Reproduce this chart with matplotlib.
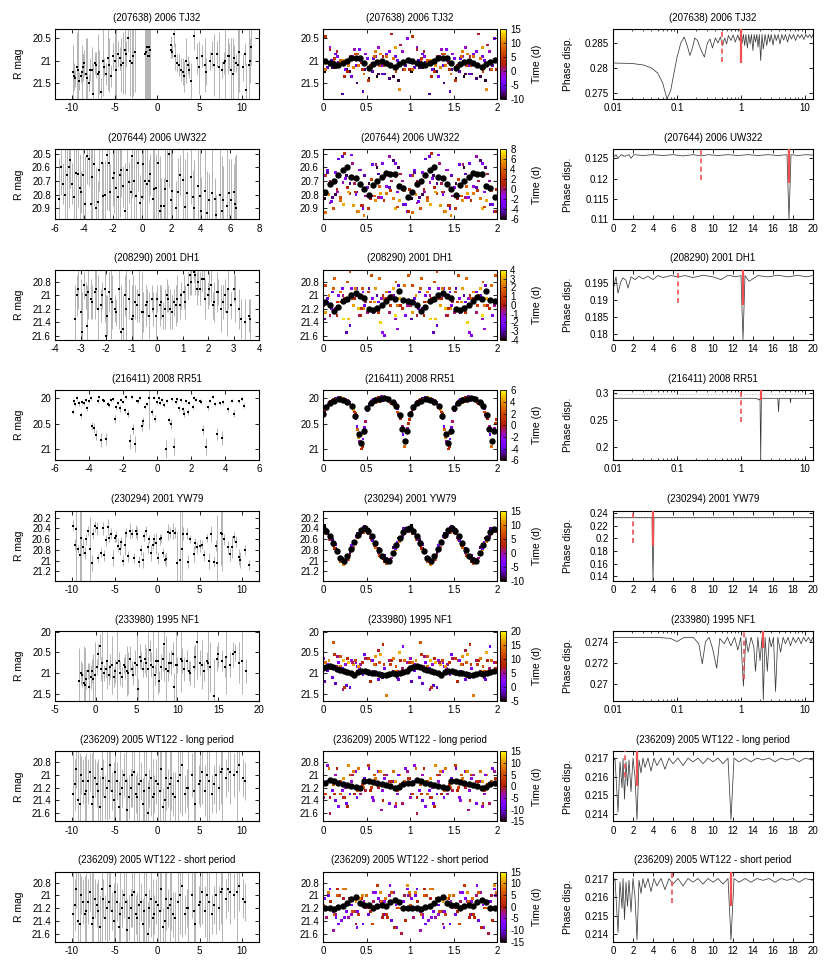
import matplotlib
matplotlib.use('Agg')
import matplotlib.pyplot as plt
from matplotlib.ticker import FuncFormatter, NullFormatter, LogLocator

plt.rcParams['font.family'] = ['Liberation Sans', 'DejaVu Sans']
plt.rcParams['font.size'] = 7

# phase of each observation in the folded light curve (night A, night B)
PHASE_A = [0.02,0.53,0.27,0.81,0.11,0.64,0.39,0.92,0.18,0.71,
           0.46,0.05,0.58,0.33,0.86,0.14,0.67,0.42,0.97,0.23,
           0.76,0.49,0.08,0.61,0.36,0.89,0.16,0.69,0.44,0.99,
           0.25,0.78,0.52,0.03,0.56,0.31,0.84,0.12,0.65,0.40,
           0.94,0.20,0.73,0.47,0.07,0.60,0.35,0.88,0.29,0.83]
PHASE_C = [0.62,0.14,0.87,0.31,0.05,0.76,0.48,0.22,0.95,0.57,
           0.10,0.68,0.38,0.83,0.26,0.51,0.01,0.73,0.43,0.17,
           0.91,0.34,0.64,0.08,0.79,0.55,0.28,0.98,0.45,0.13,
           0.70,0.37,0.86,0.20,0.59,0.03,0.81,0.41,0.66,0.24]
# 236209, short period fold
PHASE_B = [0.71,0.08,0.46,0.93,0.27,0.60,0.15,0.84,0.39,0.02,
           0.55,0.77,0.21,0.66,0.33,0.98,0.12,0.49,0.81,0.04,
           0.58,0.36,0.90,0.24,0.69,0.43,0.17,0.95,0.52,0.30,
           0.74,0.09,0.63,0.41,0.86,0.19,0.57,0.01,0.79,0.34,
           0.67,0.13,0.50,0.88,0.26,0.72,0.06,0.45,0.97,0.38]
PHASE_D = [0.33,0.79,0.06,0.52,0.91,0.18,0.64,0.40,0.97,0.25,
           0.71,0.12,0.58,0.85,0.03,0.47,0.29,0.76,0.15,0.62,
           0.38,0.94,0.21,0.68,0.09,0.55,0.82,0.44,0.27,0.73,
           0.00,0.60,0.35,0.88,0.16,0.50,0.99,0.23,0.66,0.42]

# ---- observations: time (d), R mag, error ----
t_207638 = [-9.9,-9.6,-9.3,-9.0,-8.7,-8.4,-8.0,-7.7,-7.3,-7.0,
            -6.6,-6.2,-5.8,-5.4,-5.0,-4.6,-4.2,-3.8,-3.4,-3.0,
            -2.6,-1.4,-1.2,-1.0,-0.8,1.6,1.8,2.1,2.4,2.8,
            3.2,3.6,4.0,4.4,4.9,5.3,5.8,6.2,6.7,7.1,
            7.6,8.0,8.5,8.9,9.3,9.7,10.1,10.5,10.8,11.1,
            -9.75,-9.45,-9.15,-8.85,-8.55,-8.2,-7.85,-7.5,-7.15,-6.8,
            -6.4,-6.0,-5.6,-5.2,-4.8,-4.4,-4.0,-3.6,-3.2,-2.8,
            -1.3,-1.1,-0.9,1.7,2.0,2.6,3.0,3.4,3.8,4.7,
            5.6,6.5,7.3,7.9,8.3,8.7,9.1,9.5,10.3,10.9]
mag_207638 = [21.25,21.4,21.2,21.35,21.15,21.3,21.5,21.2,21.05,21.3,
              21.7,21.15,20.95,21.35,21.0,20.85,21.1,20.75,20.5,21.05,
              20.8,20.85,20.7,20.9,20.75,20.65,20.8,20.9,21.05,21.2,
              21.35,21.1,21.45,20.45,21.15,20.9,21.25,21.0,21.1,20.85,
              21.2,21.0,20.9,21.3,21.05,20.8,21.15,21.65,21.1,20.7,
              21.35,21.15,21.45,21.25,21.05,21.4,21.2,21.75,21.1,21.25,
              21.0,21.3,21.1,20.9,21.2,20.95,21.05,20.85,21.0,20.9,
              20.8,20.9,20.7,20.75,20.4,21.1,21.25,21.0,21.2,20.95,
              21.1,20.85,21.15,21.05,20.9,21.2,20.95,21.1,20.85,21.0]
err_207638 = [0.6,0.2,0.9,0.15,0.3,0.8,0.2,0.5,0.25,0.9,
              0.3,0.2,0.7,0.25,0.9,0.3,0.6,1.0,0.3,0.8,
              0.9,1.2,1.2,1.2,1.2,0.2,0.15,0.3,0.2,0.25,
              0.35,0.2,0.4,0.3,0.6,0.25,0.3,0.2,0.7,0.3,
              0.2,0.9,0.3,0.8,0.2,0.9,0.3,0.6,0.8,0.4,
              0.3,0.8,0.2,0.6,0.3,0.9,0.25,0.7,0.3,0.5,
              0.8,0.25,0.6,0.3,0.9,0.25,0.7,0.3,0.8,0.9,
              1.2,1.2,1.2,0.2,0.3,0.25,0.3,0.5,0.2,0.35,
              0.6,0.3,0.8,0.25,0.4,0.7,0.3,0.9,0.25,0.5]

t_207644 = [-5.7,-5.45,-5.2,-4.95,-4.7,-4.45,-4.2,-3.95,-3.7,-3.45,
            -3.2,-2.95,-2.7,-2.45,-2.2,-1.95,-1.7,-1.45,-1.2,-0.95,
            -0.7,-0.45,-0.2,0.05,0.3,0.55,0.8,1.05,1.3,1.55,
            1.8,2.05,2.3,2.55,2.8,3.05,3.3,3.55,3.8,4.05,
            4.3,4.55,4.8,5.05,5.3,5.55,5.8,6.05,6.25,6.4,
            -5.6,-5.3,-5.05,-4.8,-4.55,-4.3,-4.05,-3.8,-3.55,-3.3,
            -3.05,-2.8,-2.55,-2.3,-2.05,-1.8,-1.55,-1.3,-1.05,-0.8,
            -0.55,-0.3,-0.05,0.2,0.45,0.7,0.95,1.2,1.45,1.7,
            1.95,2.45,2.95,3.45,3.95,4.45,4.95,5.45,5.95,6.35]
mag_207644 = [20.83,20.72,20.66,20.55,20.82,20.65,20.78,20.87,20.54,20.67,
              20.90,20.62,20.81,20.51,20.78,20.64,20.82,20.62,20.92,20.71,
              20.52,20.81,20.86,20.58,20.72,20.65,20.76,20.57,20.88,20.76,
              20.50,20.77,20.90,20.66,20.69,20.79,20.67,20.90,20.74,20.92,
              20.77,20.84,20.79,20.95,20.80,20.84,20.88,20.84,20.78,20.90,
              20.60,20.80,20.60,20.72,20.64,20.75,20.66,20.52,20.87,20.58,
              20.85,20.57,20.80,20.57,20.68,20.75,20.66,20.74,20.62,20.78,
              20.70,20.57,20.82,20.70,20.70,20.83,20.75,20.92,20.88,20.70,
              20.84,20.78,20.89,20.82,20.81,20.93,20.83,20.92,20.79,20.87]
err_207644 = [0.3,0.15,0.4,0.2,0.5,0.25,0.15,0.35,0.2,0.5,
              0.3,0.15,0.25,0.4,0.2,0.3,0.5,0.2,0.35,0.15,
              0.3,0.45,0.2,0.25,0.4,0.15,0.3,0.5,0.2,0.35,
              0.25,0.4,0.2,0.15,0.45,0.3,0.2,0.35,0.5,0.25,
              0.3,0.2,0.4,0.15,0.35,0.25,0.5,0.3,0.2,0.4,
              0.2,0.45,0.3,0.15,0.5,0.25,0.35,0.2,0.4,0.3,
              0.15,0.5,0.25,0.35,0.2,0.45,0.3,0.15,0.4,0.25,
              0.5,0.2,0.35,0.3,0.15,0.45,0.25,0.4,0.2,0.3,
              0.5,0.25,0.35,0.2,0.45,0.3,0.15,0.4,0.25,0.35]

t_208290 = [-3.2,-3.1,-2.95,-2.8,-2.7,-2.55,-2.4,-2.3,-2.15,-2.0,
            -1.9,-1.75,-1.6,-1.5,-1.35,-1.2,-1.1,-0.95,-0.8,-0.7,
            -0.55,-0.4,-0.3,-0.15,0.0,0.1,0.25,0.4,0.5,0.65,
            0.8,0.9,1.05,1.2,1.3,1.45,1.6,1.7,1.85,2.0,
            2.1,2.25,2.4,2.5,2.65,2.8,2.9,3.05,3.3,3.6,
            -3.15,-3.0,-2.85,-2.75,-2.6,-2.45,-2.2,-2.05,-1.95,-1.8,
            -1.65,-1.4,-1.25,-1.0,-0.85,-0.6,-0.45,-0.2,-0.05,0.15,
            0.3,0.45,0.6,0.75,0.95,1.1,1.35,1.5,1.55,1.75,
            1.9,2.05,2.2,2.35,2.6,2.75,3.0,3.2,3.45,3.65]
mag_208290 = [21.35,20.9,21.55,21.0,20.95,21.1,20.9,21.2,21.0,21.6,
              20.95,21.1,21.25,20.9,21.5,21.2,21.05,21.3,21.15,21.0,
              21.25,21.1,21.3,21.2,21.05,21.15,21.3,21.0,21.2,21.1,
              21.05,21.15,20.95,20.85,20.7,20.65,20.8,20.9,20.75,21.0,
              20.85,21.1,20.95,21.2,21.0,20.9,21.15,21.05,21.35,21.3,
              21.0,21.25,20.85,21.45,21.05,20.95,21.15,20.9,21.3,21.05,
              21.2,21.55,21.0,21.35,21.1,21.25,21.15,21.05,21.3,21.1,
              21.2,21.05,21.25,21.15,21.0,21.1,20.8,20.7,20.9,20.75,
              21.05,20.9,21.15,20.95,21.1,21.25,20.9,21.2,21.4,21.35]
err_208290 = [0.5,0.3,0.6,0.2,0.4,0.25,0.3,0.5,0.2,0.6,
              0.3,0.4,0.2,0.6,0.5,0.7,0.3,0.6,0.25,0.4,
              0.3,0.2,0.35,0.25,0.2,0.3,0.2,0.25,0.3,0.2,
              0.35,0.2,0.25,0.2,0.3,0.15,0.2,0.25,0.3,0.2,
              0.25,0.3,0.2,0.35,0.25,0.3,0.2,0.35,0.3,0.25,
              0.3,0.5,0.2,0.6,0.3,0.4,0.25,0.5,0.3,0.6,
              0.2,0.7,0.3,0.5,0.25,0.6,0.3,0.2,0.35,0.25,
              0.3,0.2,0.25,0.3,0.2,0.25,0.2,0.3,0.25,0.2,
              0.3,0.25,0.2,0.3,0.25,0.35,0.2,0.3,0.35,0.3]

t_216411 = [-4.95,-4.8,-4.6,-4.4,-4.2,-4.0,-3.8,-3.6,-3.4,-3.2,
            -3.0,-2.8,-2.6,-2.4,-2.2,-2.0,-1.8,-1.6,-1.4,-1.2,
            -1.0,-0.8,-0.6,-0.45,-0.3,-0.1,0.1,0.3,0.5,0.7,
            0.9,1.1,1.3,1.5,1.7,1.9,2.1,2.3,2.5,2.7,
            2.9,3.1,3.3,3.5,3.7,3.9,4.2,4.5,4.8,5.1,
            -4.9,-4.7,-4.5,-4.3,-4.1,-3.9,-3.7,-3.5,-3.3,-3.1,
            -2.9,-2.7,-2.5,-2.3,-2.1,-1.9,-1.7,-1.5,-1.3,-1.1,
            -0.9,-0.7,-0.2,0.0,0.2,0.4,0.6,0.8,1.0,1.2,
            1.4,1.6,1.8,2.2,2.6,3.0,3.4,3.8,4.4,5.0]
mag_216411 = [20.27,20.12,20.1,20.08,20.04,20.05,20.55,20.72,19.98,20.03,
              20.8,20.13,20.02,20.18,20.2,20.07,19.97,20.85,20.6,20.06,
              20.0,20.45,20.12,20.0,20.27,20.4,20.0,20.04,21.0,20.42,
              20.02,20.08,20.2,20.22,20.06,20.1,20.17,20.03,20.06,20.62,
              20.95,20.05,19.98,20.7,20.1,20.08,20.22,20.3,20.06,20.15,
              20.06,20.0,20.32,20.09,20.2,20.0,20.58,20.06,20.82,20.05,
              20.11,20.04,20.4,20.1,20.03,20.24,20.3,19.98,20.9,20.05,
              20.55,20.17,19.99,20.07,20.1,20.13,20.05,20.5,20.95,20.02,
              20.03,20.3,20.27,19.99,20.08,20.18,20.12,20.78,20.05,20.01]
err_216411 = [0.04,0.03,0.05,0.04,0.03,0.04,0.08,0.1,0.03,0.04,
              0.12,0.04,0.03,0.05,0.06,0.03,0.04,0.15,0.1,0.03,
              0.04,0.08,0.03,0.6,0.05,0.07,0.03,0.04,0.18,0.06,
              0.03,0.04,0.05,0.04,0.03,0.04,0.05,0.03,0.04,0.1,
              0.16,0.03,0.04,0.12,0.03,0.04,0.05,0.06,0.03,0.05,
              0.03,0.04,0.06,0.04,0.05,0.03,0.1,0.04,0.14,0.03,
              0.04,0.03,0.08,0.04,0.03,0.05,0.06,0.03,0.16,0.04,
              0.1,0.04,0.03,0.04,0.04,0.05,0.04,0.1,0.17,0.03,
              0.04,0.06,0.05,0.03,0.04,0.05,0.04,0.14,0.03,0.04]

t_230294 = [-9.9,-9.5,-9.1,-8.7,-8.3,-7.9,-7.5,-7.1,-6.6,-6.2,
            -5.8,-5.4,-5.0,-4.6,-4.2,-3.8,-3.4,-3.0,-2.5,-2.1,
            -1.7,-1.3,-0.9,-0.5,-0.1,0.3,0.7,1.1,1.5,1.9,
            2.3,2.7,3.1,3.5,3.9,4.3,4.7,5.1,5.5,5.9,
            6.3,6.7,7.1,7.5,7.9,8.3,8.8,9.3,9.8,10.4,
            -9.7,-9.3,-8.9,-8.5,-8.1,-7.7,-7.3,-6.9,-6.4,-6.0,
            -5.6,-5.2,-4.8,-4.4,-4.0,-3.6,-3.2,-2.7,-2.3,-1.9,
            -1.5,-1.1,-0.7,-0.3,0.1,0.5,0.9,1.3,2.1,2.9,
            3.7,4.5,5.3,6.1,6.9,7.7,8.6,9.1,9.6,10.8]
mag_230294 = [20.35,20.42,20.9,20.75,20.6,20.78,20.5,20.4,20.85,20.9,
              20.38,20.5,20.58,20.72,20.66,20.7,20.92,20.5,20.45,21.02,
              20.98,20.45,20.6,20.7,20.68,20.6,20.85,20.97,20.48,20.45,
              21.05,20.98,20.5,20.5,20.6,20.88,20.75,20.72,20.9,20.58,
              20.5,21.02,21.05,20.48,20.6,20.75,20.75,20.65,20.98,20.8,
              20.7,20.78,20.58,20.85,20.45,21.04,20.36,20.95,20.4,20.62,
              20.58,20.95,20.55,20.78,21.0,20.48,20.45,20.95,20.5,20.8,
              20.55,20.75,20.85,20.6,20.95,20.58,20.98,20.46,20.48,20.78,
              21.02,20.68,20.7,21.0,20.72,20.5,20.88,20.56,20.93,21.08]
err_230294 = [0.1,1.0,0.9,0.15,0.1,0.6,0.1,0.12,0.08,0.1,
              0.15,0.1,0.08,0.12,0.1,0.2,0.1,0.08,0.12,0.1,
              0.15,0.1,0.08,0.1,0.2,0.1,0.08,0.12,0.1,0.15,
              0.6,0.9,0.12,0.1,0.08,0.15,0.1,0.12,0.1,0.08,
              0.15,0.1,0.9,0.6,0.1,0.12,0.2,0.1,0.15,0.1,
              0.1,0.08,0.9,0.12,0.1,0.15,0.1,0.08,0.12,0.1,
              0.08,0.15,0.1,0.12,0.1,0.08,0.15,0.1,0.12,0.1,
              0.08,0.1,0.15,0.1,0.12,0.08,0.1,0.15,0.1,0.8,
              0.12,0.1,0.08,0.15,0.1,0.7,0.12,0.1,0.15,0.1]

t_233980 = [-2.0,-1.7,-1.3,-1.0,-0.6,-0.3,0.1,0.5,0.8,1.2,
            1.6,2.0,2.4,2.8,3.2,3.6,4.0,4.4,4.8,5.2,
            5.6,6.0,6.4,6.8,7.2,7.6,8.0,8.4,8.8,9.2,
            9.6,10.0,10.4,10.8,11.2,11.6,12.0,12.4,12.8,13.2,
            13.6,14.0,14.5,15.0,15.5,16.0,16.5,17.0,17.6,18.4,
            -1.85,-1.5,-1.15,-0.8,-0.45,-0.1,0.3,0.65,1.0,1.4,
            1.8,2.2,2.6,3.0,3.4,3.8,4.2,4.6,5.0,5.4,
            5.8,6.2,6.6,7.0,7.4,7.8,8.2,8.6,9.0,9.4,
            9.8,10.6,11.4,12.2,13.0,13.8,14.8,15.8,16.8,17.9]
mag_233980 = [21.2,21.05,21.3,20.95,21.1,21.15,20.85,20.35,20.75,20.9,
              21.05,20.8,20.95,20.7,21.1,20.85,21.0,20.9,20.75,21.4,
              20.7,20.65,20.9,20.8,21.05,20.7,20.85,20.3,20.95,20.75,
              21.35,20.8,20.65,20.9,20.7,21.0,20.85,20.25,20.75,20.95,
              20.7,20.85,21.55,20.55,20.7,20.6,20.8,20.5,20.75,20.95,
              21.0,21.25,21.15,21.35,20.95,21.05,20.55,20.9,21.0,20.7,
              20.85,21.1,20.75,21.0,20.8,20.95,20.65,21.05,20.8,20.6,
              20.9,20.75,20.45,20.85,20.7,21.2,20.65,20.9,20.75,20.55,
              20.8,20.7,20.95,20.6,20.8,20.75,20.65,20.85,20.55,20.7]
err_233980 = [0.8,0.3,0.9,0.2,0.3,0.6,0.2,0.3,0.9,0.2,
              0.25,0.7,0.3,0.2,0.25,0.3,0.5,0.2,0.3,0.25,
              0.2,0.35,0.9,0.3,0.25,0.8,0.3,0.9,0.25,0.3,
              0.35,0.2,0.8,0.3,0.25,0.3,0.5,0.9,0.3,0.25,
              0.2,0.6,0.9,0.3,0.25,0.9,0.3,0.2,0.5,0.3,
              0.3,0.9,0.25,0.6,0.3,0.8,0.25,0.3,0.2,0.7,
              0.3,0.25,0.9,0.3,0.2,0.6,0.3,0.25,0.8,0.3,
              0.2,0.35,0.25,0.9,0.3,0.25,0.3,0.8,0.25,0.3,
              0.9,0.3,0.25,0.3,0.6,0.9,0.3,0.25,0.3,0.8]

t_236209 = [-9.9,-9.5,-9.1,-8.7,-8.3,-7.9,-7.5,-7.1,-6.7,-6.3,
            -5.9,-5.5,-5.1,-4.7,-4.3,-3.9,-3.5,-3.1,-2.7,-2.3,
            -1.9,-1.5,-1.1,-0.7,-0.3,0.1,0.5,0.9,1.3,1.7,
            2.1,2.5,2.9,3.3,3.7,4.1,4.5,4.9,5.3,5.7,
            6.1,6.5,6.9,7.3,7.7,8.1,8.6,9.1,9.7,10.4,
            -9.7,-9.3,-8.9,-8.5,-8.1,-7.7,-7.3,-6.9,-6.5,-6.1,
            -5.7,-5.3,-4.9,-4.5,-4.1,-3.7,-3.3,-2.9,-2.5,-2.1,
            -1.7,-1.3,-0.9,-0.5,-0.1,0.3,0.7,1.1,1.5,1.9,
            2.7,3.5,4.3,5.1,5.9,6.7,7.5,8.4,9.4,10.1]
mag_236209 = [21.3,20.9,21.45,21.1,21.25,20.95,21.35,21.15,21.5,21.05,
              21.2,20.85,21.4,21.1,21.3,21.0,21.55,21.2,20.95,21.35,
              21.1,21.25,21.6,21.05,21.3,21.15,20.9,21.4,21.2,21.05,
              21.35,21.1,20.85,21.3,21.2,21.0,21.45,21.15,20.95,21.25,
              21.1,21.3,21.0,21.2,20.9,21.05,20.95,21.0,20.85,21.1,
              21.15,21.4,21.0,21.3,21.1,21.45,21.05,21.25,20.9,21.35,
              21.1,21.25,20.95,21.5,21.2,21.1,21.35,21.0,21.3,21.15,
              21.45,21.0,21.2,21.35,21.1,21.25,21.5,21.05,21.15,21.3,
              21.0,21.2,21.25,21.1,21.0,21.15,20.95,20.9,20.95,21.05]
err_236209 = [0.9,0.3,0.8,0.35,0.6,0.3,0.9,0.35,0.5,0.3,
              0.8,0.4,0.6,0.3,0.9,0.35,0.5,0.3,0.8,0.4,
              0.3,0.9,0.5,0.6,0.3,0.8,0.35,0.9,0.3,0.5,
              0.4,0.9,0.8,0.3,0.6,0.35,0.9,0.3,0.5,0.4,
              0.8,0.3,0.6,0.35,0.9,0.3,0.5,0.35,0.4,0.3,
              0.4,0.9,0.3,0.6,0.35,0.8,0.3,0.5,0.9,0.35,
              0.6,0.3,0.8,0.4,0.3,0.9,0.35,0.5,0.3,0.8,
              0.4,0.9,0.3,0.6,0.35,0.8,0.3,0.5,0.9,0.35,
              0.6,0.3,0.8,0.4,0.9,0.3,0.5,0.35,0.8,0.3]

# ---- binned mean light curves (black dots) ----
BIN_PH_20 = [0.025,0.075,0.125,0.175,0.225,0.275,0.325,0.375,0.425,0.475,
             0.525,0.575,0.625,0.675,0.725,0.775,0.825,0.875,0.925,0.975]
BIN_PH_25 = [0.0,0.04,0.08,0.12,0.16,0.2,0.24,0.28,0.32,0.36,0.4,0.44,0.48,
             0.52,0.56,0.6,0.64,0.68,0.72,0.76,0.8,0.84,0.88,0.92,0.96]
BIN_PH_216411 = [0.0,0.04,0.08,0.13,0.18,0.23,0.28,0.33,0.37,0.41,0.44,0.47,
                 0.51,0.55,0.6,0.65,0.7,0.75,0.8,0.84,0.88,0.91,0.94,0.97]
bin_207638 = [21.00,21.06,21.08,21.10,21.06,21.00,20.93,20.93,20.94,21.06,
              21.16,21.08,21.03,21.00,21.05,21.10,21.14,21.08,21.02,20.98]
bin_207644 = [20.78,20.72,20.70,20.66,20.62,20.60,20.67,20.68,20.72,20.76,
              20.80,20.73,20.70,20.67,20.64,20.65,20.65,20.74,20.75,20.82]
bin_208290 = [21.10,21.15,21.23,21.17,21.08,21.06,21.00,20.96,21.01,21.04,
              21.20,21.22,21.19,21.14,21.08,21.03,21.05,20.93,21.07,21.08]
bin_216411 = [20.3,20.18,20.1,20.05,20.02,20.03,20.08,20.15,20.35,20.7,20.88,20.65,
              20.2,20.1,20.04,20.02,20.0,20.02,20.08,20.15,20.33,20.6,20.85,20.65]
bin_230294 = [20.40,20.45,20.55,20.68,20.82,20.95,21.0,20.92,20.78,20.65,20.52,20.43,20.40,
              20.45,20.55,20.68,20.8,20.92,20.98,21.0,20.85,20.7,20.58,20.47,20.41]
bin_233980 = [20.88,20.85,20.83,20.86,20.9,20.93,20.96,20.98,21.0,21.04,20.98,20.96,20.95,
              20.98,21.0,21.0,21.02,21.05,21.04,21.02,21.0,21.02,21.0,20.98,20.96]
bin_236209_long = [21.12,21.08,21.1,21.12,21.14,21.16,21.17,21.19,21.2,21.1,
                   21.09,21.11,21.12,21.14,21.16,21.18,21.2,21.19,21.15,21.13]
bin_236209_short = [21.2,21.2,21.21,21.19,21.16,21.12,21.06,21.03,21.12,21.15,
                    21.15,21.2,21.16,21.15,21.17,21.1,21.08,21.11,21.2,21.2]

# ---- phase dispersion vs trial period ----
pdp_207638 = [0.01,0.02,0.03,0.04,0.05,0.06,0.07,0.08,0.09,0.10,
              0.115,0.13,0.145,0.16,0.175,0.19,0.21,0.24,0.27,0.30,
              0.33,0.36,0.40,0.44,0.48,0.52,0.56,0.60,0.64,0.70,
              0.76,0.82,
              0.9,0.95,1.0,1.05,1.1,1.15,1.2,1.27,1.33,1.4,
              1.47,1.55,1.62,1.7,1.78,1.86,1.95,2.05,2.15,2.25,
              2.4,2.55,2.7,2.85,3.0,3.2,3.4,3.6,3.85,4.1,
              4.4,4.7,5.0,5.4,5.8,6.2,6.7,7.2,7.8,8.4,
              9.0,9.7,10.4,11.2,12.0,12.8,13.5]
pdd_207638 = [0.2810,0.2809,0.2806,0.2800,0.2790,0.2770,0.2738,0.2755,0.2790,0.2820,
              0.2850,0.2862,0.2845,0.2825,0.2840,0.2860,0.2855,0.2835,0.2822,0.2850,
              0.2858,0.2840,0.2860,0.2850,0.2862,0.2845,0.2860,0.2848,0.2865,0.2855,
              0.2866,0.2852,
              0.2866,0.2855,0.2867,0.2850,0.2867,0.2845,0.2867,0.2840,0.2867,0.2848,
              0.2867,0.2835,0.2867,0.2852,0.2867,0.2842,0.2867,0.2815,0.2867,0.2838,
              0.2867,0.2845,0.2867,0.2852,0.2867,0.2846,0.2867,0.2855,0.2867,0.2848,
              0.2867,0.2856,0.2867,0.2852,0.2867,0.2858,0.2867,0.2855,0.2867,0.2860,
              0.2867,0.2857,0.2867,0.2861,0.2867,0.2860,0.2867]
pdp_207644 = [0,0.3,0.5,0.8,1.2,1.6,1.8,2.1,3,4,5,6,7,8,8.8,9.5,10.5,11.5,12.5,13.5,
              14.5,15.5,16.5,17.4,17.6,17.8,18.5,19.3,20]
pdd_207644 = [0.1252,0.1259,0.1250,0.1259,0.1255,0.1259,0.1250,0.1259,0.1257,0.1259,
              0.1257,0.1259,0.1256,0.1259,0.1256,0.1259,0.1257,0.1259,0.1257,0.1259,
              0.1257,0.1259,0.1257,0.1259,0.1100,0.1259,0.1257,0.1259,0.1258]
pdp_208290 = [0,0.1,0.3,0.5,0.8,1.0,1.3,1.5,1.8,2.2,2.6,3.0,3.5,4.0,4.5,5.0,5.8,6.5,
              7.2,8.0,9.0,10.0,10.8,11.5,12.3,12.8,13.0,13.2,13.6,14.5,15.5,16.5,
              17.5,18.5,19.3,20]
pdd_208290 = [0.1960,0.1940,0.1968,0.1920,0.1955,0.1965,0.1958,0.1935,0.1968,0.1960,
              0.1970,0.1962,0.1970,0.1960,0.1972,0.1966,0.1972,0.1968,0.1972,0.1966,
              0.1973,0.1968,0.1960,0.1973,0.1968,0.1972,0.1782,0.1972,0.1955,0.1972,
              0.1968,0.1973,0.1968,0.1973,0.1968,0.1972]
pdp_216411 = [0.01,0.1,0.5,1.0,1.5,1.8,1.9,2.0,2.05,2.1,2.2,2.5,3.0,3.8,3.9,4.0,
              5.0,5.9,6.0,6.1,8.0,13.5]
pdd_216411 = [0.2910,0.2910,0.2910,0.2910,0.2910,0.2905,0.2880,0.2905,0.1765,0.2900,
              0.2910,0.2910,0.2910,0.2910,0.2660,0.2910,0.2910,0.2910,0.2830,0.2910,
              0.2910,0.2910]
pdp_230294 = [0,2,3.9,4.0,4.1,6,10,14,20]
pdd_230294 = [0.2330,0.2330,0.2330,0.1330,0.2330,0.2330,0.2330,0.2330,0.2330]
pdp_233980 = [0.01,0.05,0.08,0.1,0.13,0.18,0.22,0.25,0.28,0.32,
              0.36,0.42,0.47,0.55,0.62,0.7,0.8,0.9,1.0,1.1,
              1.2,1.3,1.45,1.6,1.7,1.85,2.0,2.15,2.25,2.4,
              2.6,2.8,3.0,3.25,3.5,3.8,4.2,4.6,5.0,5.5,
              6.0,6.6,7.2,8.0,8.8,9.6,10.5,11.5,12.5,13.5]
pdd_233980 = [0.2744,0.2744,0.2743,0.2740,0.2744,0.2744,0.2738,0.2719,0.2740,0.2744,
              0.2734,0.2715,0.2743,0.2738,0.2744,0.2736,0.2744,0.2732,0.2744,0.2698,
              0.2744,0.2730,0.2744,0.2735,0.2712,0.2744,0.2722,0.2744,0.2685,0.2744,
              0.2712,0.2744,0.2735,0.2744,0.2693,0.2744,0.2730,0.2744,0.2738,0.2744,
              0.2736,0.2744,0.2739,0.2744,0.2738,0.2744,0.2740,0.2744,0.2740,0.2744]
pdp_236209 = [0,0.2,0.5,0.7,0.9,1.0,1.15,1.3,1.45,1.6,
              1.8,2.0,2.2,2.4,2.6,2.8,3.0,3.2,3.5,3.8,
              4.1,4.4,4.8,5.2,5.6,6.0,6.5,7.0,7.5,8.0,
              8.5,9.0,9.5,10.0,10.5,11.0,11.5,11.8,12.1,12.6,
              13.2,13.8,14.4,15.0,15.6,16.2,16.8,17.4,18.0,18.6,
              19.2,20.0]
pdd_236209 = [0.2168,0.2170,0.2141,0.2168,0.2154,0.2170,0.2148,0.2168,0.2155,0.2169,
              0.2152,0.2170,0.2160,0.2137,0.2169,0.2162,0.2170,0.2165,0.2170,0.2163,
              0.2170,0.2166,0.2170,0.2164,0.2170,0.2167,0.2170,0.2166,0.2170,0.2168,
              0.2170,0.2167,0.2170,0.2168,0.2170,0.2167,0.2170,0.2137,0.2170,0.2168,
              0.2170,0.2168,0.2170,0.2169,0.2170,0.2168,0.2170,0.2169,0.2170,0.2168,
              0.2170,0.2169]

OBS = {
    '207638': (t_207638, mag_207638, err_207638),
    '207644': (t_207644, mag_207644, err_207644),
    '208290': (t_208290, mag_208290, err_208290),
    '216411': (t_216411, mag_216411, err_216411),
    '230294': (t_230294, mag_230294, err_230294),
    '233980': (t_233980, mag_233980, err_233980),
    '236209': (t_236209, mag_236209, err_236209),
}
FOLD_MAIN = PHASE_A + PHASE_C
FOLD_SHORT = PHASE_B + PHASE_D

LC_X = [-10, -5, 0, 5, 10]
LIN_P = [0, 2, 4, 6, 8, 10, 12, 14, 16, 18, 20]

# best period (solid) and half period (dashed): (period, lower end of marker)
ROWS = [
    dict(title='(207638) 2006 TJ32', obj='207638', ph=FOLD_MAIN, bph=BIN_PH_20, bmag=bin_207638,
         xlim=(-12, 12), xt=LC_X, ylim=(21.86, 20.29), yt=[20.5, 21, 21.5],
         clim=(-10, 15), ct=[-10, -5, 0, 5, 10, 15],
         pdp=pdp_207638, pdd=pdd_207638, log=True, pylim=(0.2738, 0.2878),
         pyt=[0.275, 0.28, 0.285], best=(1.02, 0.2810), half=(0.51, 0.2812), faint=None),
    dict(title='(207644) 2006 UW322', obj='207644', ph=FOLD_MAIN, bph=BIN_PH_20, bmag=bin_207644,
         xlim=(-6, 8), xt=[-6, -4, -2, 0, 2, 4, 6, 8], ylim=(20.98, 20.47),
         yt=[20.5, 20.6, 20.7, 20.8, 20.9],
         clim=(-6, 8), ct=[-6, -4, -2, 0, 2, 4, 6, 8],
         pdp=pdp_207644, pdd=pdd_207644, log=False, pylim=(0.11, 0.1272),
         pyt=[0.11, 0.115, 0.12, 0.125], best=(17.6, 0.1190), half=(8.8, 0.1197), faint=None),
    dict(title='(208290) 2001 DH1', obj='208290', ph=FOLD_MAIN, bph=BIN_PH_20, bmag=bin_208290,
         xlim=(-4, 4), xt=[-4, -3, -2, -1, 0, 1, 2, 3, 4], ylim=(21.66, 20.62),
         yt=[20.8, 21, 21.2, 21.4, 21.6],
         clim=(-4, 4), ct=[-4, -3, -2, -1, 0, 1, 2, 3, 4],
         pdp=pdp_208290, pdd=pdd_208290, log=False, pylim=(0.1782, 0.1989),
         pyt=[0.18, 0.185, 0.19, 0.195], best=(13.0, 0.1885), half=(6.5, 0.1892), faint=None),
    dict(title='(216411) 2008 RR51', obj='216411', ph=FOLD_MAIN, bph=BIN_PH_216411, bmag=bin_216411,
         xlim=(-6, 6), xt=[-6, -4, -2, 0, 2, 4, 6], ylim=(21.22, 19.84), yt=[20, 20.5, 21],
         clim=(-6, 6), ct=[-6, -4, -2, 0, 2, 4, 6],
         pdp=pdp_216411, pdd=pdd_216411, log=True, pylim=(0.1765, 0.306),
         pyt=[0.2, 0.25, 0.3], best=(2.05, 0.288), half=(1.02, 0.247), faint=0.2985),
    dict(title='(230294) 2001 YW79', obj='230294', ph=FOLD_MAIN, bph=BIN_PH_25, bmag=bin_230294,
         xlim=(-12, 12), xt=LC_X, ylim=(21.37, 20.07), yt=[20.2, 20.4, 20.6, 20.8, 21, 21.2],
         clim=(-10, 15), ct=[-10, -5, 0, 5, 10, 15],
         pdp=pdp_230294, pdd=pdd_230294, log=False, pylim=(0.133, 0.244),
         pyt=[0.14, 0.16, 0.18, 0.2, 0.22, 0.24], best=(4.0, 0.188), half=(2.0, 0.192), faint=0.2315),
    dict(title='(233980) 1995 NF1', obj='233980', ph=FOLD_MAIN, bph=BIN_PH_25, bmag=bin_233980,
         xlim=(-5, 20), xt=[-5, 0, 5, 10, 15, 20], ylim=(21.68, 19.98), yt=[20, 20.5, 21, 21.5],
         clim=(-5, 20), ct=[-5, 0, 5, 10, 15, 20],
         pdp=pdp_233980, pdd=pdd_233980, log=True, pylim=(0.2684, 0.2750),
         pyt=[0.27, 0.272, 0.274], best=(2.25, 0.2734), half=(1.12, 0.2705), faint=None),
    dict(title='(236209) 2005 WT122 - long period', obj='236209', ph=FOLD_MAIN, bph=BIN_PH_20,
         bmag=bin_236209_long,
         xlim=(-12, 12), xt=LC_X, ylim=(21.73, 20.63), yt=[20.8, 21, 21.2, 21.4, 21.6],
         clim=(-15, 15), ct=[-15, -10, -5, 0, 5, 10, 15],
         pdp=pdp_236209, pdd=pdd_236209, log=False, pylim=(0.2136, 0.21736),
         pyt=[0.214, 0.215, 0.216, 0.217], best=(2.4, 0.2155), half=(1.2, 0.2160), faint=None),
    dict(title='(236209) 2005 WT122 - short period', obj='236209', ph=FOLD_SHORT, bph=BIN_PH_20,
         bmag=bin_236209_short,
         xlim=(-12, 12), xt=LC_X, ylim=(21.73, 20.63), yt=[20.8, 21, 21.2, 21.4, 21.6],
         clim=(-15, 15), ct=[-15, -10, -5, 0, 5, 10, 15],
         pdp=pdp_236209, pdd=pdd_236209, log=False, pylim=(0.2136, 0.21736),
         pyt=[0.214, 0.215, 0.216, 0.217], best=(11.8, 0.2155), half=(5.9, 0.2157), faint=None),
]

W, H = 830, 965
fig = plt.figure(figsize=(W / 100, H / 100), dpi=100)
gfmt = FuncFormatter(lambda v, p: '%g' % v)


def box(x0, x1, top, h=70):
    return [x0 / W, 1 - (top + h) / H, (x1 - x0) / W, h / H]


def style(ax):
    for s in ax.spines.values():
        s.set_linewidth(0.8)
    ax.tick_params(direction='in', length=3, width=0.6, top=True, right=True, pad=3, labelsize=7)
    ax.tick_params(which='minor', direction='in', length=1.5, width=0.5, top=True, right=True)


for i, r in enumerate(ROWS):
    top = 29 + 120.4 * i
    t, m, e = OBS[r['obj']]

    # light curve
    ax = fig.add_axes(box(55, 259, top))
    ax.errorbar(t, m, yerr=e, fmt='none', ecolor='#b4b4b4', elinewidth=0.7, capsize=0, zorder=1)
    ax.scatter(t, m, s=2.5, c='k', marker='s', linewidths=0, zorder=2)
    ax.set_xlim(r['xlim'])
    ax.set_ylim(r['ylim'])
    ax.set_xticks(r['xt'])
    ax.set_yticks(r['yt'])
    ax.xaxis.set_major_formatter(gfmt)
    ax.yaxis.set_major_formatter(gfmt)
    ax.set_title(r['title'], fontsize=7, pad=6)
    ax.set_ylabel('R mag', fontsize=7.5)
    ax.yaxis.set_label_coords(-0.15, 0.5)
    style(ax)

    # folded light curve, two cycles
    ax = fig.add_axes(box(323, 497, top))
    ph2 = list(r['ph']) + [p + 1 for p in r['ph']]
    sc = ax.scatter(ph2, list(m) * 2, c=list(t) * 2, cmap='gnuplot', vmin=r['clim'][0],
                    vmax=r['clim'][1], s=4, marker='s', linewidths=0, zorder=1)
    bph2 = list(r['bph']) + [p + 1 for p in r['bph']]
    ax.plot(bph2, list(r['bmag']) * 2, 'o', color='k', ms=4.6, mec='none', zorder=3)
    ax.set_xlim(0, 2)
    ax.set_ylim(r['ylim'])
    ax.set_xticks([0, 0.5, 1, 1.5, 2])
    ax.set_yticks(r['yt'])
    ax.xaxis.set_major_formatter(gfmt)
    ax.yaxis.set_major_formatter(gfmt)
    ax.set_title(r['title'], fontsize=7, pad=6)
    style(ax)

    cax = fig.add_axes(box(500, 506, top))
    cb = fig.colorbar(sc, cax=cax, ticks=r['ct'])
    cb.outline.set_linewidth(0.6)
    cax.tick_params(direction='in', length=2, width=0.5, labelsize=7, pad=3)
    cax.yaxis.set_major_formatter(gfmt)
    cb.set_label('Time (d)', fontsize=7.5)
    cax.yaxis.set_label_coords(5.4, 0.5)

    # phase dispersion
    ax = fig.add_axes(box(613, 813, top))
    if r['faint'] is not None:
        ax.axhline(r['faint'], color='#c8c8c8', lw=0.8, ls=(0, (1, 1.5)), zorder=1)
    ax.plot(r['pdp'], r['pdd'], color='#3a3a3a', lw=0.55, zorder=2)
    y_hi = r['pylim'][1]
    ax.vlines(r['best'][0], r['best'][1], y_hi, color='#f05050', lw=1.6, zorder=3)
    ax.vlines(r['half'][0], r['half'][1], y_hi, color='#f05050', lw=1.2,
              linestyles=(0, (3, 2)), zorder=3)
    if r['log']:
        ax.set_xscale('log')
        ax.set_xlim(0.01, 13.5)
        ax.set_xticks([0.01, 0.1, 1, 10])
        ax.xaxis.set_minor_locator(LogLocator(subs=range(2, 10)))
        ax.xaxis.set_minor_formatter(NullFormatter())
    else:
        ax.set_xlim(0, 20)
        ax.set_xticks(LIN_P)
    ax.set_ylim(r['pylim'])
    ax.set_yticks(r['pyt'])
    ax.xaxis.set_major_formatter(gfmt)
    ax.yaxis.set_major_formatter(gfmt)
    ax.set_title(r['title'], fontsize=7, pad=6)
    ax.set_ylabel('Phase disp.', fontsize=7.5)
    ax.yaxis.set_label_coords(-0.2, 0.5)
    style(ax)

fig.savefig('out.png', dpi=100, facecolor='white')
